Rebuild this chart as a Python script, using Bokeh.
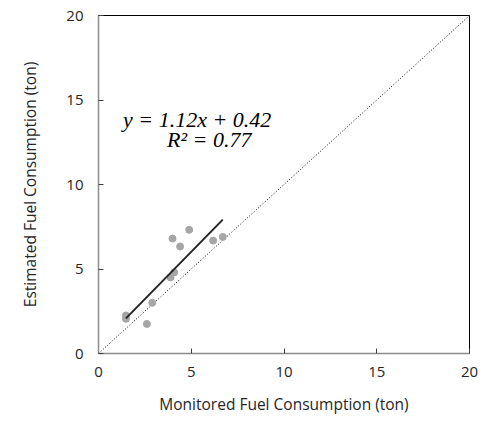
from bokeh.plotting import figure
from bokeh.models import Range1d, FixedTicker, Label
from bokeh.embed import file_html
from bokeh.resources import INLINE

# data
monitored = [1.48, 1.48, 2.61, 2.90, 3.88, 4.08, 3.99, 4.40, 4.89, 6.18, 6.70]
estimated = [2.25, 2.05, 1.75, 3.00, 4.50, 4.80, 6.80, 6.33, 7.32, 6.68, 6.90]
slope = 1.12
intercept = 0.42
r2 = 0.77
ticks = [0, 5, 10, 15, 20]

p = figure(frame_width=371, frame_height=338, output_backend="svg", toolbar_location=None,
           x_range=Range1d(0, 20), y_range=Range1d(0, 20),
           min_border_left=98, min_border_right=13, min_border_top=15, min_border_bottom=66)
p.grid.visible = False
p.outline_line_color = "#000000"
p.outline_line_width = 1
p.background_fill_color = "white"
p.border_fill_color = "white"

for ax in (p.xaxis[0], p.yaxis[0]):
    ax.ticker = FixedTicker(ticks=ticks)
    ax.minor_tick_line_color = None
    ax.major_tick_in = 5
    ax.major_tick_out = 0
    ax.axis_line_color = "#8c8c8c"
    ax.axis_line_width = 1.5
    ax.major_tick_line_color = "#404040"
    ax.major_label_text_font = "Open Sans"
    ax.major_label_text_font_size = "15px"
    ax.major_label_text_color = "#262626"
    ax.axis_label_text_font = "Open Sans"
    ax.axis_label_text_font_size = "15.5px"
    ax.axis_label_text_font_style = "normal"
    ax.axis_label_text_color = "#262626"

p.xaxis.axis_label = "Monitored Fuel Consumption (ton)"
p.yaxis.axis_label = "Estimated Fuel Consumption (ton)"
p.xaxis.major_label_standoff = 13
p.xaxis.axis_label_standoff = 13
p.yaxis.major_label_standoff = 15
p.yaxis.axis_label_standoff = 22

# 1:1 line
p.line([0, 20], [0, 20], line_color="#000000", line_width=1, line_dash="1 2")

# points
p.scatter(monitored, estimated, size=7, fill_color="#a6a6a6", line_color="#a6a6a6")

# fit line
x0, x1 = min(monitored), max(monitored)
p.line([x0, x1], [slope * x0 + intercept, slope * x1 + intercept],
       line_color="#262626", line_width=2)

p.add_layout(Label(x=5.32, y=13.86, text=f"y = {slope:.2f}x + {intercept:.2f}",
                   text_font="Liberation Serif", text_font_style="italic",
                   text_font_size="22px", text_align="center", text_baseline="alphabetic",
                   text_color="#000000"))
p.add_layout(Label(x=5.97, y=12.68, text=f"R² = {r2:.2f}",
                   text_font="Liberation Serif", text_font_style="italic",
                   text_font_size="22px", text_align="center", text_baseline="alphabetic",
                   text_color="#000000"))

open("out.html", "w").write(file_html(p, INLINE))
